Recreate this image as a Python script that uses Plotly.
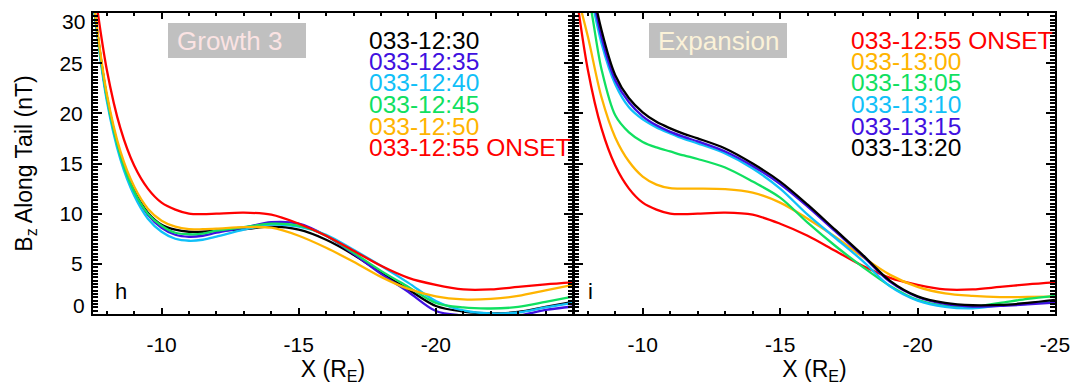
import plotly.graph_objects as go

# ---------------- data ----------------
x_grid = [-7.5, -8, -8.5, -9, -9.5, -10, -10.5, -11, -11.5, -12, -13, -14,
          -15, -16, -17, -18, -19, -20, -21, -22, -23, -24, -25]

# Growth phase (panel h)
bz_1230 = [31.5, 21.7, 15.9, 12.3, 10.1, 8.9, 8.4, 8.2, 8.2, 8.3, 8.45, 8.7,
           8.4, 7.4, 5.9, 4.1, 2.45, 0.8, 0.25, 0.05, 0.2, 0.7, 1.2]
bz_1235 = [31.4, 21.6, 15.7, 12.1, 9.9, 8.6, 7.9, 7.7, 7.8, 8.1, 8.6, 9.15,
           9.0, 7.8, 6.0, 4.0, 2.2, 0.3, -0.15, -0.35, -0.15, 0.4, 0.75]
bz_1240 = [31.2, 21.3, 15.4, 11.8, 9.5, 8.2, 7.5, 7.3, 7.4, 7.7, 8.4, 8.9,
           8.7, 7.9, 6.4, 4.8, 3.1, 1.3, 0.35, 0.05, 0.15, 0.65, 1.1]
bz_1245 = [31.4, 21.7, 15.8, 12.2, 10.0, 8.8, 8.1, 7.95, 8.0, 8.3, 8.65, 9.0,
           8.8, 7.8, 6.1, 4.3, 2.7, 1.1, 0.65, 0.55, 0.7, 1.2, 1.73]
bz_1250 = [31.7, 22.0, 16.2, 12.7, 10.5, 9.3, 8.7, 8.45, 8.45, 8.5, 8.65, 8.6,
           7.8, 6.6, 5.2, 3.7, 2.5, 1.75, 1.45, 1.5, 1.8, 2.35, 2.9]
bz_1255 = [33.5, 24.4, 18.5, 14.8, 12.5, 11.1, 10.4, 10.0, 9.95, 10.0, 10.1, 9.9,
           9.0, 7.8, 6.3, 4.8, 3.6, 2.9, 2.45, 2.45, 2.7, 2.95, 3.15]

# Expansion phase (panel i)
bz_1300 = [33.0, 27.7, 21.6, 17.6, 15.2, 13.7, 12.9, 12.55, 12.5, 12.5, 12.45, 12.1,
           11.1, 9.5, 7.7, 5.7, 3.9, 2.7, 2.05, 1.8, 1.68, 1.7, 1.73]
bz_1305 = [36.0, 32.0, 24.4, 19.8, 18.1, 17.15, 16.6, 16.2, 15.8, 15.45, 14.6, 13.2,
           11.6, 9.1, 6.8, 4.7, 2.8, 1.4, 0.8, 0.72, 1.1, 1.5, 1.8]
bz_1310 = [42.0, 33.5, 27.0, 22.9, 20.6, 19.4, 18.6, 18.0, 17.45, 17.0, 16.0, 14.5,
           12.5, 9.9, 7.6, 5.3, 2.75, 1.33, 0.72, 0.57, 0.85, 1.05, 1.23]
bz_1315 = [43.0, 34.5, 27.6, 23.3, 21.1, 19.7, 18.8, 18.15, 17.65, 17.2, 16.2, 14.75,
           12.95, 10.7, 8.25, 5.8, 3.2, 1.7, 1.0, 0.75, 0.8, 0.95, 1.13]
bz_1320 = [44.0, 35.0, 28.3, 23.8, 21.5, 20.1, 19.15, 18.5, 17.95, 17.5, 16.5, 15.0,
           13.2, 10.9, 8.4, 5.9, 3.3, 1.75, 1.1, 0.87, 0.9, 1.1, 1.4]

growth_labels = ["033-12:30", "033-12:35", "033-12:40", "033-12:45", "033-12:50", "033-12:55 ONSET"]
growth_series = [bz_1230, bz_1235, bz_1240, bz_1245, bz_1250, bz_1255]
expansion_labels = ["033-12:55 ONSET", "033-13:00", "033-13:05", "033-13:10", "033-13:15", "033-13:20"]
expansion_series = [bz_1255, bz_1300, bz_1305, bz_1310, bz_1315, bz_1320]

left_xticks = [-10, -15, -20]
left_xtick_text = ["-10", "-15", "-20"]
right_xticks = [-10, -15, -20, -25]
right_xtick_text = ["-10", "-15", "-20", "-25"]
y_ticks = [0, 5, 10, 15, 20, 25, 30]
# end labels (0 and 30) are drawn nudged inward, as in the original figure
y_tick_text = ["", "5", "10", "15", "20", "25", ""]
y_end_labels = ["0", "30"]

# ---------------- styles ----------------
C_BLACK, C_BLUE, C_CYAN = "#000000", "#4010e0", "#10c0f8"
C_GREEN, C_ORANGE, C_RED = "#10e060", "#ffb400", "#ff0000"
growth_colors = [C_BLACK, C_BLUE, C_CYAN, C_GREEN, C_ORANGE, C_RED]
expansion_colors = [C_RED, C_ORANGE, C_GREEN, C_CYAN, C_BLUE, C_BLACK]

FONT = "Liberation Sans, Arial, Helvetica, sans-serif"
W, H = 1090, 387
ML, MR, MT, MB = 93, 35, 13, 73
PW, PH = W - ML - MR, H - MT - MB


def px(xp):
    return (xp - ML) / PW


def py(yp):
    return 1 - (yp - MT) / PH


fig = go.Figure()

for lab, ys, col in zip(growth_labels, growth_series, growth_colors):
    fig.add_trace(go.Scatter(x=x_grid, y=ys, mode="lines", name=lab,
                             line=dict(color=col, width=2.3, shape="spline", smoothing=0.9),
                             xaxis="x", yaxis="y", showlegend=False))

for lab, ys, col in zip(expansion_labels, expansion_series, expansion_colors):
    fig.add_trace(go.Scatter(x=x_grid, y=ys, mode="lines", name=lab,
                             line=dict(color=col, width=2.3, shape="spline", smoothing=0.9),
                             xaxis="x2", yaxis="y2", showlegend=False))

split = 480 / PW
TICKFONT = dict(family=FONT, size=21, color="black")
axis_common = dict(showline=True, linecolor="black", linewidth=2, mirror="ticks",
                   ticks="inside", tickcolor="black", tickwidth=1.5,
                   showgrid=False, zeroline=False, tickfont=TICKFONT)

xtitle = dict(text="X (R<sub>E</sub>)", font=dict(family=FONT, size=23, color="black"), standoff=3)
xminor = dict(dtick=1, ticklen=3, ticks="inside", tickcolor="black")
yminor = dict(dtick=1 / 3, ticklen=5, ticks="inside", tickcolor="black")

fig.update_layout(
    width=W, height=H,
    margin=dict(l=ML, r=MR, t=MT, b=MB),
    paper_bgcolor="white", plot_bgcolor="white",
    showlegend=False,
    xaxis=dict(domain=[0, split], range=[-7.5, -25], tickvals=left_xticks,
               ticktext=left_xtick_text, ticklen=6, minor=xminor, ticklabelstandoff=11,
               anchor="y", title=xtitle, **axis_common),
    xaxis2=dict(domain=[split + 1 / PW, 1], range=[-7.5, -25], tickvals=right_xticks,
                ticktext=right_xtick_text, ticklen=6, minor=xminor, ticklabelstandoff=11,
                anchor="y2", title=xtitle, **axis_common),
    yaxis=dict(domain=[0, 1], range=[0, 30], tickvals=y_ticks, ticktext=y_tick_text,
               ticklen=9, minor=yminor, ticklabelstandoff=4, anchor="x",
               title=dict(text="B<sub>z</sub> Along Tail (nT)",
                          font=dict(family=FONT, size=23, color="black"), standoff=20),
               **axis_common),
    yaxis2=dict(domain=[0, 1], range=[0, 30], tickvals=y_ticks, ticklen=9,
                minor=yminor, anchor="x2", showticklabels=False, **axis_common),
)

# nudged end labels of the y axis
for lab, yy in zip(y_end_labels, [305, 22]):
    fig.add_annotation(xref="paper", yref="paper", x=px(86), y=py(yy), text=lab,
                       showarrow=False, xanchor="right", yanchor="middle",
                       borderpad=0, font=TICKFONT)

# panel title boxes
boxes = [((168, 306), "Growth 3", "#fbe3e3", 176, "left"),
         ((649, 787), "Expansion", "#fbf2d8", 718, "center")]
for (x0, x1), txt, tcol, tx, anch in boxes:
    fig.add_shape(type="rect", xref="paper", yref="paper",
                  x0=px(x0), x1=px(x1), y0=py(58), y1=py(23),
                  fillcolor="#c0c0c0", line=dict(width=0), layer="above")
    fig.add_annotation(xref="paper", yref="paper", x=px(tx), y=py(41),
                       text=txt, showarrow=False, xanchor=anch, yanchor="middle",
                       borderpad=0, font=dict(family=FONT, size=26, color=tcol))

# legend text
line_y = [40, 61.5, 83, 104.5, 126, 147]
for x_left, labels, colors in [(368, growth_labels, growth_colors),
                               (850, expansion_labels, expansion_colors)]:
    for yy, lab, col in zip(line_y, labels, colors):
        fig.add_annotation(xref="paper", yref="paper", x=px(x_left), y=py(yy),
                           text=lab, showarrow=False, xanchor="left", yanchor="middle",
                           borderpad=0, font=dict(family=FONT, size=24.5, color=col))

# panel letters
for xx, letter in [(121, "h"), (590, "i")]:
    fig.add_annotation(xref="paper", yref="paper", x=px(xx), y=py(291),
                       text=letter, showarrow=False, xanchor="center", yanchor="middle",
                       borderpad=0, font=dict(family=FONT, size=22, color="black"))

fig.write_html("out.html")
